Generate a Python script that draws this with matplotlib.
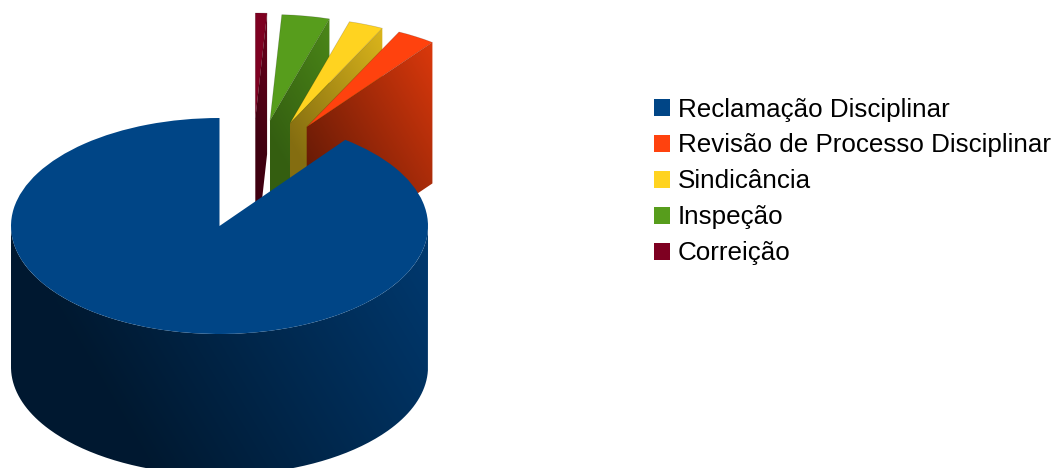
import numpy as np
import matplotlib
matplotlib.use("Agg")
import matplotlib.pyplot as plt
from matplotlib.colors import to_rgb
from matplotlib.patches import Wedge, Patch, PathPatch
from matplotlib.path import Path
from matplotlib.transforms import Affine2D

# Data
categories = ["Reclamação Disciplinar", "Revisão de Processo Disciplinar",
              "Sindicância", "Inspeção", "Correição"]
shares = [89.7, 3.0, 2.7, 3.7, 0.9]
colors = ["#004586", "#ff420e", "#ffd320", "#579d1c", "#7e0021"]

# Layout (pixels of the canvas)
W, H_FIG = 1054, 468
CX, CY, RX, RY, DEPTH = 219.5, 226.0, 208.5, 108.0, 141.0
SLICE_RY = 106.0
explode_dx = [0.0, 87.2, 70.5, 50.5, 35.8]
explode_dy = [0.0, -99.0, -102.7, -105.5, -107.0]
shade_low = [0.5, 0.46, 0.54, 0.62, 0.55]
shade_floor = [0.36, 0.4, 0.52, 0.6, 0.5]

plt.rcParams["font.family"] = ["Liberation Sans", "DejaVu Sans"]
fig = plt.figure(figsize=(W / 100, H_FIG / 100), dpi=100)
ax = fig.add_axes([0, 0, 1, 1])
ax.set_xlim(0, W)
ax.set_ylim(H_FIG, 0)
ax.axis("off")


def grad(x, y):
    return 0.85 * x - 0.5 * y


def shaded(path, rgb_hex, t0, f0, t1, f1, floor, z):
    """Wall face filled with a diagonal light-to-dark gradient."""
    v = path.vertices
    x0, x1 = int(v[:, 0].min()) - 1, int(v[:, 0].max()) + 2
    y0, y1 = int(v[:, 1].min()) - 1, int(v[:, 1].max()) + 2
    xs, ys = np.meshgrid(np.arange(x0, x1) + .5, np.arange(y0, y1) + .5)
    f = f0 + (f1 - f0) * (grad(xs, ys) - t0) / (t1 - t0)
    f = np.clip(f, floor, 0.95)
    img = f[..., None] * np.array(to_rgb(rgb_hex))
    im = ax.imshow(img, extent=(x0, x1, y1, y0), origin="upper", aspect="auto",
                   interpolation="bilinear", zorder=z)
    patch = PathPatch(path, transform=ax.transData, fc="none", ec="none")
    ax.add_patch(patch)
    im.set_clip_path(patch)


# Angles measured counter-clockwise from 12 o'clock
starts = 90 + np.concatenate([[0], np.cumsum(shares)[:-1]]) * 3.6
ends = 90 + np.cumsum(shares) * 3.6

# Exploded slices are painted back to front, the big slice last
for i in range(len(shares) - 1, -1, -1):
    px, py = CX + explode_dx[i], CY + explode_dy[i]
    ry = RY if i == 0 else SLICE_RY
    z = 10 + (len(shares) - 1 - i) * 2
    if i == 0:
        th = np.deg2rad(np.linspace(180, 360, 200))
        ex, ey = CX + RX * np.cos(th), CY - RY * np.sin(th)
        verts = np.vstack([np.c_[ex, ey], np.c_[ex[::-1], ey[::-1] + DEPTH],
                           [[ex[0], ey[0]]]])
        shaded(Path(verts), colors[i], 0.0, shade_low[i], 215.0, 0.79, shade_floor[i], z)
    else:
        a = np.deg2rad(starts[i])
        rim_x, rim_y = px + RX * np.cos(a), py - ry * np.sin(a)
        verts = np.array([[px, py], [rim_x, rim_y], [rim_x, rim_y + DEPTH],
                          [px, py + DEPTH], [px, py]])
        shaded(Path(verts), colors[i], grad(px, py), shade_low[i],
               grad(rim_x, rim_y), 0.86, shade_floor[i], z)
    tr = Affine2D().scale(RX, -ry).translate(px, py) + ax.transData
    ax.add_patch(Wedge((0, 0), 1, starts[i], ends[i], fc=colors[i],
                       ec="#00000030" if i else "none", lw=0.5, transform=tr,
                       zorder=z + 1))

ax.set_xlim(0, W)
ax.set_ylim(H_FIG, 0)

handles = [Patch(fc=c, ec="none") for c in colors]
ax.legend(handles, categories, loc="upper left", bbox_to_anchor=(654 / W, 1 - 97.5 / H_FIG),
          frameon=False, fontsize=18.7, borderpad=0, borderaxespad=0,
          handlelength=0.616, handleheight=0.616, handletextpad=0.31,
          labelspacing=0.46, labelcolor="#000000")

fig.savefig("out.png", dpi=100, facecolor="white")
